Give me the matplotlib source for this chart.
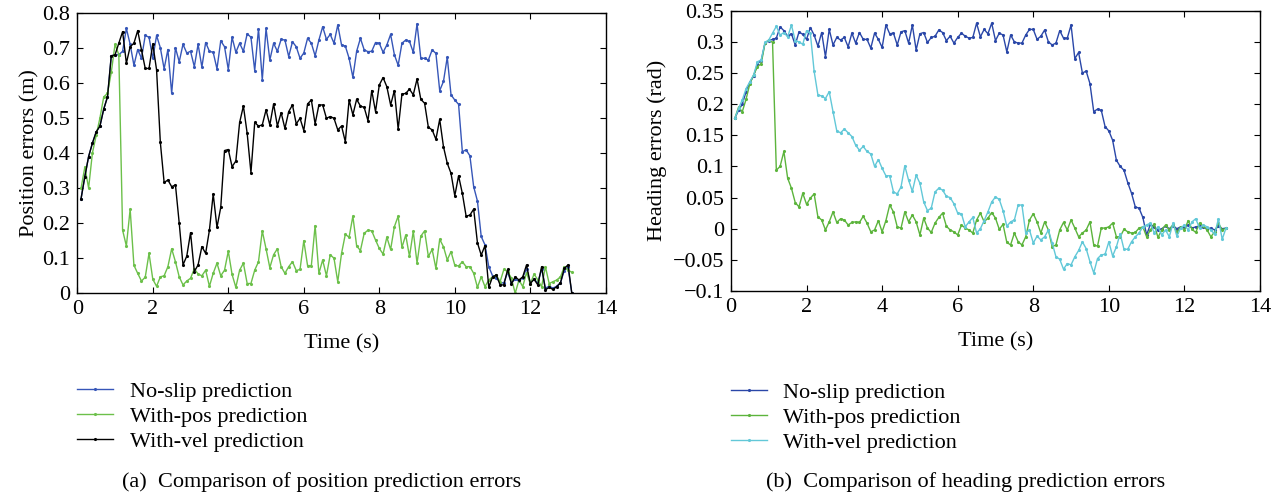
import numpy as np
import matplotlib
matplotlib.use('Agg')
import matplotlib.pyplot as plt
from matplotlib.ticker import FuncFormatter

plt.rcParams['font.family'] = ['Liberation Serif', 'DejaVu Serif']
plt.rcParams['axes.unicode_minus'] = True

# --- datos ---
time_s = np.arange(1, 132) * 0.1   # muestras cada 0.1 s

pos_noslip = [0.27, 0.333, 0.39, 0.428, 0.46, 0.477, 0.525, 0.56, 0.677, 0.68,
              0.68, 0.69, 0.755, 0.71, 0.65, 0.695, 0.67, 0.735, 0.73, 0.67,
              0.735, 0.70, 0.64, 0.695, 0.57, 0.70, 0.66, 0.71, 0.685, 0.69,
              0.646, 0.71, 0.645, 0.715, 0.69, 0.687, 0.64, 0.72, 0.703, 0.638,
              0.73, 0.687, 0.713, 0.69, 0.74, 0.73, 0.635, 0.754, 0.608, 0.755,
              0.665, 0.713, 0.69, 0.724, 0.722, 0.675, 0.717, 0.703, 0.67, 0.685,
              0.727, 0.713, 0.677, 0.722, 0.76, 0.724, 0.738, 0.713, 0.765, 0.708,
              0.705, 0.67, 0.616, 0.69, 0.727, 0.694, 0.689, 0.69, 0.715, 0.713,
              0.687, 0.708, 0.738, 0.68, 0.65, 0.713, 0.722, 0.718, 0.687, 0.768,
              0.67, 0.67, 0.665, 0.694, 0.684, 0.578, 0.604, 0.673, 0.566, 0.551,
              0.539, 0.404, 0.409, 0.392, 0.304, 0.263, 0.162, 0.138, 0.076, 0.05,
              0.045, 0.03, 0.03, 0.06, 0.03, 0.04, 0.035, 0.045, 0.07, 0.03,
              0.04, 0.03, 0.07, 0.015, 0.02, 0.015, 0.02, 0.03, 0.065, 0.075,
              0.0]

pos_withpos = [0.30, 0.36, 0.30, 0.40, 0.45, 0.50, 0.56, 0.57, 0.63, 0.71,
               0.68, 0.18, 0.135, 0.24, 0.08, 0.057, 0.035, 0.046, 0.114, 0.04,
               0.02, 0.047, 0.05, 0.076, 0.127, 0.09, 0.047, 0.024, 0.035, 0.043,
               0.07, 0.055, 0.05, 0.066, 0.02, 0.057, 0.086, 0.05, 0.066, 0.12,
               0.054, 0.017, 0.066, 0.086, 0.028, 0.028, 0.066, 0.09, 0.178, 0.127,
               0.073, 0.11, 0.127, 0.076, 0.057, 0.076, 0.09, 0.065, 0.068, 0.15,
               0.079, 0.079, 0.193, 0.057, 0.095, 0.05, 0.11, 0.10, 0.033, 0.114,
               0.168, 0.16, 0.22, 0.135, 0.122, 0.171, 0.18, 0.178, 0.152, 0.128,
               0.112, 0.16, 0.125, 0.19, 0.22, 0.131, 0.166, 0.105, 0.177, 0.086,
               0.163, 0.178, 0.105, 0.125, 0.071, 0.154, 0.133, 0.095, 0.119, 0.08,
               0.078, 0.09, 0.076, 0.076, 0.057, 0.017, 0.047, 0.019, 0.038, 0.047,
               0.052, 0.033, 0.068, 0.062, 0.043, 0.0, 0.038, 0.019, 0.059, 0.027,
               0.055, 0.038, 0.019, 0.076, 0.028, 0.033, 0.038, 0.047, 0.076, 0.066,
               0.06]

pos_withvel = [0.27, 0.333, 0.39, 0.428, 0.46, 0.477, 0.525, 0.56, 0.677, 0.68,
               0.713, 0.746, 0.656, 0.703, 0.713, 0.749, 0.694, 0.641, 0.641, 0.711,
               0.637, 0.43, 0.316, 0.323, 0.304, 0.309, 0.20, 0.081, 0.106, 0.173,
               0.062, 0.081, 0.133, 0.114, 0.18, 0.283, 0.188, 0.245, 0.407, 0.41,
               0.361, 0.377, 0.487, 0.534, 0.456, 0.344, 0.487, 0.477, 0.48, 0.523,
               0.48, 0.54, 0.477, 0.515, 0.47, 0.518, 0.537, 0.483, 0.499, 0.464,
               0.54, 0.551, 0.483, 0.537, 0.537, 0.499, 0.504, 0.499, 0.466, 0.477,
               0.432, 0.551, 0.509, 0.553, 0.534, 0.53, 0.492, 0.578, 0.518, 0.594,
               0.615, 0.589, 0.537, 0.578, 0.468, 0.568, 0.57, 0.582, 0.566, 0.611,
               0.553, 0.542, 0.473, 0.466, 0.439, 0.496, 0.418, 0.371, 0.342, 0.278,
               0.335, 0.285, 0.22, 0.223, 0.24, 0.144, 0.109, 0.136, 0.017, 0.047,
               0.052, 0.024, 0.024, 0.068, 0.027, 0.047, 0.038, 0.047, 0.081, 0.028,
               0.04, 0.024, 0.076, 0.01, 0.017, 0.011, 0.019, 0.03, 0.071, 0.081,
               0.0]

head_noslip = [0.177, 0.19, 0.2, 0.22, 0.235, 0.245, 0.265, 0.27, 0.298, 0.302,
               0.304, 0.306, 0.324, 0.318, 0.309, 0.313, 0.295, 0.316, 0.312, 0.304,
               0.323, 0.311, 0.293, 0.315, 0.276, 0.32, 0.295, 0.307, 0.303, 0.307,
               0.292, 0.314, 0.298, 0.315, 0.304, 0.304, 0.29, 0.314, 0.304, 0.291,
               0.327, 0.313, 0.314, 0.295, 0.316, 0.318, 0.298, 0.327, 0.287, 0.313,
               0.315, 0.299, 0.307, 0.309, 0.319, 0.315, 0.302, 0.309, 0.298, 0.307,
               0.314, 0.309, 0.306, 0.307, 0.33, 0.308, 0.32, 0.313, 0.33, 0.302,
               0.314, 0.311, 0.284, 0.311, 0.30, 0.298, 0.298, 0.311, 0.32, 0.32,
               0.304, 0.309, 0.319, 0.30, 0.295, 0.298, 0.318, 0.306, 0.306, 0.327,
               0.273, 0.283, 0.25, 0.253, 0.233, 0.188, 0.192, 0.19, 0.164, 0.157,
               0.142, 0.11, 0.10, 0.094, 0.074, 0.057, 0.035, 0.033, 0.018, -0.01,
               0.007, 0.003, -0.002, 0.0, 0.004, 0.0, 0.005, 0.0, 0.003, 0.002,
               0.006, 0.001, 0.003, 0.004, 0.002, 0.0, 0.001, -0.002, 0.004, 0.0,
               0.001]

head_withpos = [0.177, 0.195, 0.188, 0.208, 0.233, 0.247, 0.26, 0.265, 0.298, 0.303,
                0.299, 0.094, 0.10, 0.124, 0.081, 0.065, 0.042, 0.035, 0.057, 0.039,
                0.049, 0.056, 0.019, 0.014, -0.002, 0.011, 0.027, 0.01, 0.016, 0.014,
                0.006, 0.01, 0.011, 0.01, 0.02, 0.009, -0.005, -0.002, 0.013, -0.005,
                0.013, 0.038, 0.027, 0.003, 0.001, 0.027, 0.011, 0.022, 0.011, -0.01,
                0.017, 0.001, -0.006, 0.009, 0.018, 0.025, 0.004, -0.002, -0.005, -0.01,
                0.006, 0.001, -0.002, -0.007, 0.014, 0.025, 0.011, 0.017, 0.026, 0.017,
                -0.001, 0.007, -0.022, -0.026, -0.007, -0.021, -0.026, -0.013, 0.014, 0.024,
                0.011, -0.007, 0.011, -0.002, -0.029, -0.026, -0.002, 0.01, -0.002, 0.014,
                0.001, -0.013, -0.007, -0.002, 0.011, -0.026, -0.028, 0.001, 0.001, 0.003,
                0.009, -0.013, -0.013, -0.001, -0.005, -0.007, -0.006, 0.001, 0.003, -0.013,
                -0.002, 0.007, -0.014, -0.002, 0.006, -0.002, 0.007, -0.006, 0.003, -0.002,
                0.013, -0.001, -0.006, 0.009, 0.004, -0.002, -0.013, -0.005, 0.009, -0.002,
                0.001]

head_withvel = [0.177, 0.193, 0.207, 0.225, 0.236, 0.247, 0.268, 0.271, 0.299, 0.303,
                0.314, 0.325, 0.311, 0.315, 0.308, 0.327, 0.302, 0.30, 0.296, 0.318,
                0.314, 0.253, 0.215, 0.213, 0.209, 0.22, 0.188, 0.157, 0.154, 0.16,
                0.154, 0.148, 0.134, 0.126, 0.132, 0.124, 0.12, 0.10, 0.111, 0.097,
                0.085, 0.085, 0.059, 0.056, 0.067, 0.101, 0.078, 0.06, 0.086, 0.073,
                0.043, 0.029, 0.033, 0.059, 0.065, 0.062, 0.052, 0.05, 0.04, 0.025,
                0.024, 0.003, 0.011, 0.018, -0.007, 0.0, 0.013, 0.027, 0.043, 0.051,
                0.047, 0.029, 0.004, 0.011, 0.014, 0.038, 0.038, -0.007, -0.002, -0.023,
                -0.012, -0.018, -0.013, -0.002, -0.023, -0.045, -0.049, -0.065, -0.056, -0.058,
                -0.045, -0.035, -0.021, -0.032, -0.053, -0.071, -0.048, -0.042, -0.041, -0.021,
                -0.044, -0.029, -0.008, -0.033, -0.033, -0.021, -0.013, -0.007, 0.003, 0.006,
                0.009, -0.007, 0.003, -0.01, -0.002, -0.013, 0.009, -0.012, 0.001, 0.006,
                -0.002, 0.011, 0.016, 0.001, 0.006, 0.003, -0.002, -0.009, 0.016, -0.017,
                0.001]

labels = ['No-slip prediction', 'With-pos prediction', 'With-vel prediction']

FS = 16

def estilo_ejes(ax):
    ax.set_xlim(0, 14)
    ax.set_xticks(range(0, 15, 2))
    ax.tick_params(direction='in', top=True, right=True, length=4, width=0.8, labelsize=FS)
    ax.tick_params(axis='x', pad=5)
    ax.tick_params(axis='y', pad=5)
    for s in ax.spines.values():
        s.set_linewidth(1.0)
    ax.yaxis.set_major_formatter(FuncFormatter(lambda v, p: ('%g' % round(v, 3)).replace('-', '\u2212')))
    ax.set_xlabel('Time (s)', fontsize=FS, labelpad=11)

def leyenda(ax, y0):
    ax.legend(loc='upper left', bbox_to_anchor=(0.0, y0), frameon=False, fontsize=FS,
              borderaxespad=0, borderpad=0, handlelength=1.6, handletextpad=0.75,
              labelspacing=0.2)

fig = plt.figure(figsize=(12.84, 4.98), dpi=100)

# (a) posicion
ax1 = fig.add_axes([0.0602, 0.411, 0.4116, 0.5635])
ax1.plot(time_s, pos_noslip, color='#3656b8', lw=1.0, marker='.', ms=2.5, label=labels[0])
ax1.plot(time_s, pos_withpos, color='#6cc04a', lw=1.0, marker='.', ms=2.5, label=labels[1])
ax1.plot(time_s, pos_withvel, color='#000000', lw=1.0, marker='.', ms=2.5, label=labels[2])
ax1.set_ylim(0, 0.8)
ax1.set_yticks(np.arange(0, 0.81, 0.1))
estilo_ejes(ax1)
ax1.set_ylabel('Position errors (m)', fontsize=FS, labelpad=2)
leyenda(ax1, -0.315)
fig.text(0.095, 0.022, '(a)  Comparison of position prediction errors', fontsize=FS, ha='left')

# (b) orientacion
ax2 = fig.add_axes([0.5693, 0.4157, 0.412, 0.5628])
ax2.plot(time_s, head_noslip, color='#2a47a8', lw=1.0, marker='.', ms=2.5, label=labels[0])
ax2.plot(time_s, head_withpos, color='#5cb43c', lw=1.0, marker='.', ms=2.5, label=labels[1])
ax2.plot(time_s, head_withvel, color='#62c8d8', lw=1.0, marker='.', ms=2.5, label=labels[2])
ax2.set_ylim(-0.1, 0.35)
ax2.set_yticks(np.arange(-0.1, 0.351, 0.05))
estilo_ejes(ax2)
ax2.set_ylabel('Heading errors (rad)', fontsize=FS, labelpad=4)
leyenda(ax2, -0.325)
fig.text(0.5965, 0.022, '(b)  Comparison of heading prediction errors', fontsize=FS, ha='left')

fig.savefig('out.png', dpi=100)
